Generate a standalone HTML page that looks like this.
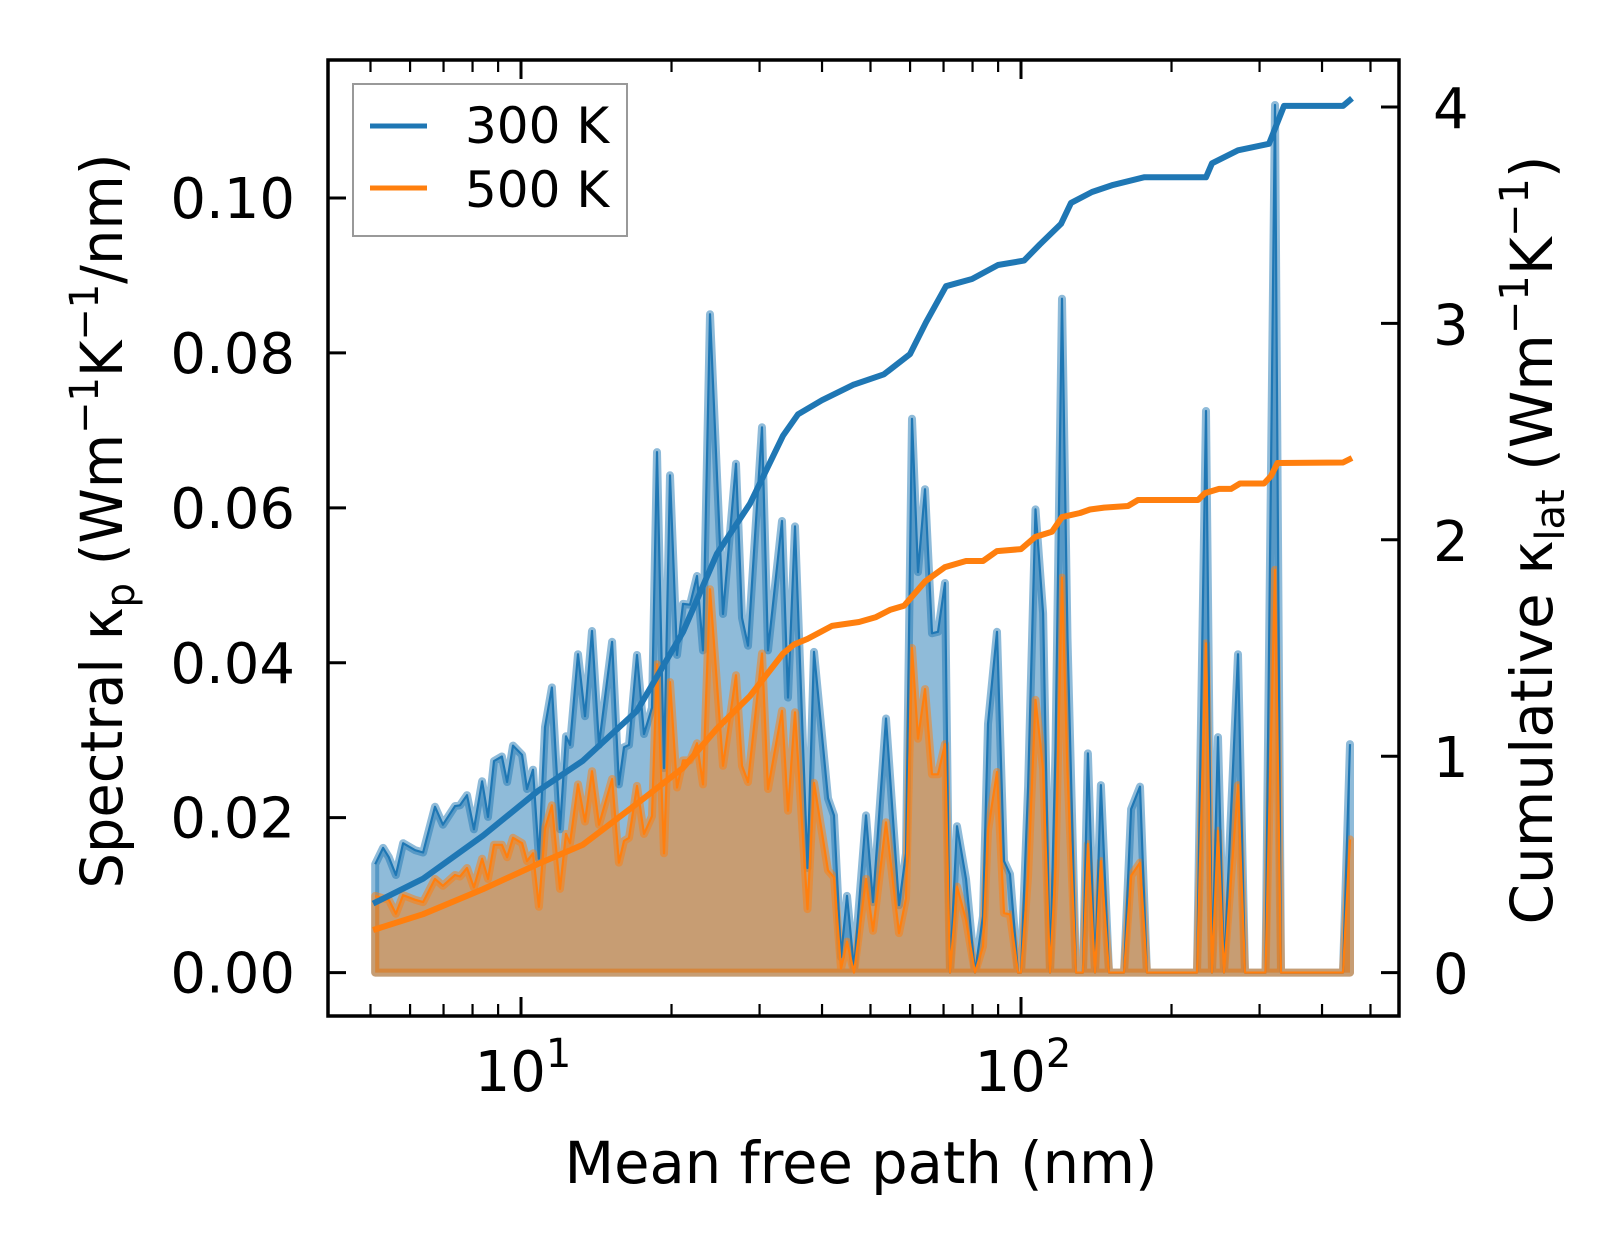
<!DOCTYPE html>
<html><head><meta charset="utf-8">
<style>
html,body{margin:0;padding:0;background:#fff;}
svg{display:block;font-family:"DejaVu Sans","Liberation Sans",sans-serif;}
</style></head>
<body>
<svg id="chart" width="1623" height="1254" viewBox="0 0 1623 1254" xmlns="http://www.w3.org/2000/svg">
<rect width="1623" height="1254" fill="#fff"/>
<g id="plot"></g>
<g id="axes"></g>
</svg>
<script>
// ---- data ----
const mfp = [5.11,5.30,5.44,5.62,5.81,6.14,6.37,6.73,6.98,7.38,7.55,7.80,8.05,8.36,8.59,8.83,9.16,9.38,9.64,10.05,10.28,10.57,10.86,11.17,11.53,11.97,12.30,12.53,13.00,13.43,13.87,14.32,15.21,15.70,16.07,16.44,17.06,17.62,18.28,18.71,19.32,19.86,20.51,21.09,21.78,22.49,23.12,23.88,25.35,26.92,27.67,28.44,30.34,31.19,33.27,34.20,35.32,37.41,38.55,41.11,42.27,43.65,44.87,46.34,48.98,50.58,53.70,57.02,58.88,60.53,62.23,64.27,66.37,68.23,70.47,72.11,74.47,77.62,80.91,83.95,85.90,89.54,92.47,95.06,98.63,100,103.3,106.9,110.7,114.3,117.2,120.8,123.9,128.8,133.0,136.1,140.6,144.5,150.0,160.7,166.0,173.0,178.6,224.9,234.4,241.0,247.7,254.7,271.6,280.5,308.3,322.1,331.1,440.6,455.0];
const k300 = [.0140,.0161,.0149,.0126,.0167,.0158,.0155,.0214,.0191,.0215,.0216,.0229,.0185,.0247,.0201,.0273,.0279,.0246,.0293,.0281,.0237,.0262,.0147,.0317,.0368,.0185,.0305,.0294,.0411,.0331,.0441,.0294,.0427,.0243,.0291,.0294,.0410,.0308,.0342,.0672,.0264,.0642,.0410,.0476,.0475,.0512,.0416,.085,.0463,.0657,.0458,.0422,.0704,.0416,.0583,.0355,.0576,.0135,.0414,.0225,.0203,.0020,.0099,.0005,.0203,.0091,.0328,.0087,.0154,.0715,.0517,.0624,.0438,.0440,.0503,0,.0189,.0121,0,.0073,.0321,.0440,.0144,.0127,0,0,.0240,.0598,.0464,0,.0287,.087,.0431,0,0,.0283,0,.0242,0,0,.0211,.0240,0,0,.0725,0,.0304,0,.0411,0,0,.112,0,0,.0295];
const k500 = [.0099,.0096,.0094,.0076,.0100,.0094,.0091,.0121,.0112,.0126,.0124,.0135,.0110,.0147,.0121,.0165,.0165,.0149,.0174,.0167,.0144,.0154,.0085,.0186,.0216,.0108,.0179,.0167,.0243,.0195,.0260,.0191,.0250,.0142,.0170,.0174,.0241,.0179,.0202,.0398,.0154,.0375,.0239,.0274,.0274,.0296,.0243,.0495,.0267,.0384,.0267,.0246,.0412,.0237,.0338,.0209,.0336,.0082,.0245,.0132,.0123,.0005,.0040,0,.0121,.0054,.0194,.0051,.0096,.0419,.0302,.0366,.0256,.0256,.0295,0,.0111,.0068,0,.0034,.0183,.0259,.0077,.0075,0,0,.0125,.0352,.0263,0,.0135,.0510,.0259,0,0,.0166,0,.0144,0,0,.0125,.0142,0,0,.0425,0,.0183,0,.0242,0,0,.052,0,0,.0172];
const cumMfp300 = [5.06,6.37,8.40,10.81,13.30,17.06,21.09,24.66,28.71,33.42,35.81,39.99,46.13,53.21,59.98,64.57,70.79,79.80,89.95,101.4,109.1,120.2,125.9,138.7,152.8,176.2,234.4,241.0,271.6,313.3,335.7,440.6,459.2];
const cum300 = [.319,.434,.633,.839,.979,1.21,1.574,1.936,2.167,2.481,2.58,2.645,2.716,2.765,2.858,3.005,3.172,3.205,3.27,3.29,3.365,3.46,3.557,3.607,3.64,3.675,3.675,3.74,3.80,3.83,4.005,4.005,4.04];
const cumMfp500 = [5.06,6.37,8.40,10.81,13.30,17.06,21.09,24.66,28.71,33.42,35.16,37.41,41.88,47.42,51.29,54.70,58.34,64.27,70.47,77.62,83.95,89.54,100,106.7,115.3,120.8,131.2,137.4,146.6,163.7,171.4,225.9,233.3,248.9,263.0,274.2,306.2,316.2,325.8,440.6,459.2];
const cum500 = [.197,.27,.386,.502,.591,.781,.946,1.128,1.278,1.474,1.516,1.542,1.602,1.620,1.643,1.676,1.695,1.807,1.874,1.902,1.902,1.948,1.957,2.013,2.037,2.105,2.124,2.140,2.149,2.156,2.184,2.184,2.216,2.235,2.235,2.26,2.26,2.295,2.355,2.357,2.378];
const leftTicks = [0,0.02,0.04,0.06,0.08,0.10];
const leftTickLabels = ["0.00","0.02","0.04","0.06","0.08","0.10"];
const rightTicks = [0,1,2,3,4];
const xMajor = [10,100];
const xMajorExp = ["1","2"];
const xMinor = [5,6,7,8,9,20,30,40,50,60,70,80,90,200,300,400,500];

// ---- axes functions ----
const L=328,R=1399,T=60,B=1016;
const X = m => 521 + 500*(Math.log10(m)-1);
const YL = v => 972.6 - v*7746;
const YR = c => 972.6 - c*216.4;
const NS="http://www.w3.org/2000/svg";
const plot=document.getElementById('plot'), axes=document.getElementById('axes');
function mk(tag, attrs, parent){const e=document.createElementNS(NS,tag);for(const k in attrs)e.setAttribute(k,attrs[k]);parent.appendChild(e);return e;}

function areaPath(xs, ys){
  let d='M'+X(xs[0]).toFixed(1)+','+YL(0).toFixed(1);
  for(let i=0;i<xs.length;i++) d+='L'+X(xs[i]).toFixed(1)+','+YL(ys[i]).toFixed(1);
  d+='L'+X(xs[xs.length-1]).toFixed(1)+','+YL(0).toFixed(1)+'Z';
  return d;
}
function linePath(xs, ys, yf){
  let d='';
  for(let i=0;i<xs.length;i++) d+=(i?'L':'M')+X(xs[i]).toFixed(1)+','+yf(ys[i]).toFixed(1);
  return d;
}
let e;
e=mk('path',{d:areaPath(mfp,k300),fill:'rgba(31,119,180,0.5)',stroke:'rgba(31,119,180,0.5)','stroke-width':8,'stroke-linejoin':'round'},plot);


e=mk('path',{d:areaPath(mfp,k500),fill:'rgba(255,127,14,0.5)',stroke:'rgba(255,127,14,0.5)','stroke-width':8,'stroke-linejoin':'round'},plot);


e=mk('path',{d:linePath(mfp,k300,YL),fill:'none',stroke:'#1f77b4','stroke-width':2.2,'stroke-linejoin':'round'},plot);


e=mk('path',{d:linePath(mfp,k500,YL),fill:'none',stroke:'#ff7f0e','stroke-width':2.2,'stroke-linejoin':'round'},plot);


e=mk('path',{d:linePath(cumMfp300,cum300,YR),fill:'none',stroke:'#1f77b4','stroke-width':6,'stroke-linejoin':'round'},plot);


e=mk('path',{d:linePath(cumMfp500,cum500,YR),fill:'none',stroke:'#ff7f0e','stroke-width':6,'stroke-linejoin':'round'},plot);



const tk={stroke:'#000','stroke-width':3};
leftTicks.forEach((v,i)=>{
  const y=YL(v);
  const t=mk('line',Object.assign({x1:L,x2:L+18,y1:y,y2:y},tk),axes);
  
  
  const l=mk('text',{x:295,y:y+20,'text-anchor':'end','font-size':56},axes);
  l.textContent=leftTickLabels[i];
  
  
});
rightTicks.forEach(c=>{
  const y=YR(c);
  const t=mk('line',Object.assign({x1:R-18,x2:R,y1:y,y2:y},tk),axes);
  
  
  const l=mk('text',{x:1433,y:y+21,'font-size':56},axes);
  l.textContent=String(c);
  
  
});
xMajor.forEach((m,i)=>{
  const x=X(m);
  [[B,B-19],[T,T+19]].forEach(p=>{
    const t=mk('line',Object.assign({x1:x,x2:x,y1:p[0],y2:p[1]},tk),axes);
    
    
  });
  const l=mk('text',{x:x+2,y:1091,'text-anchor':'middle','font-size':56},axes);
  
  
  const a=mk('tspan',{},l); a.textContent='10';
  const b=mk('tspan',{dy:-24,'font-size':40}, l); b.textContent=xMajorExp[i];
});
xMinor.forEach(m=>{
  const x=X(m);
  if(x<L||x>R) return;
  [[B,B-12],[T,T+12]].forEach(p=>{
    const t=mk('line',{x1:x,x2:x,y1:p[0],y2:p[1],stroke:'#000','stroke-width':2.2},axes);
    
    
  });
});
(function(){
const f=document.createElementNS(NS,'rect');
f.setAttribute('x',328);f.setAttribute('y',60);f.setAttribute('width',1071);f.setAttribute('height',956);
f.setAttribute('fill','none');f.setAttribute('stroke','#000');f.setAttribute('stroke-width',3.5);


axes.appendChild(f);
const svg=document.getElementById('chart');
const g=document.createElementNS(NS,'g');
g.innerHTML =
 '<rect x="353" y="84" width="274" height="152" fill="#fff" stroke="#999" stroke-width="2"/>'+
 '<line x1="370" x2="427" y1="126" y2="126" stroke="#1f77b4" stroke-width="5"/>'+
 '<text x="465" y="143" font-size="50">300 K</text>'+
 '<line x1="370" x2="427" y1="188" y2="188" stroke="#ff7f0e" stroke-width="5"/>'+
 '<text x="465" y="207" font-size="50">500 K</text>'+
 '<text x="861" y="1183" text-anchor="middle" font-size="58" textLength="593" lengthAdjust="spacingAndGlyphs">Mean free path (nm)</text>'+
 '<text transform="translate(122,521) rotate(-90)" text-anchor="middle" font-size="58" textLength="735" lengthAdjust="spacingAndGlyphs">Spectral κ<tspan font-size="40" dy="12">p</tspan><tspan dy="-12"> (Wm</tspan><tspan font-size="40" dy="-24">−1</tspan><tspan dy="24">K</tspan><tspan font-size="40" dy="-24">−1</tspan><tspan dy="24">/nm)</tspan></text>'+
 '<text transform="translate(1552,540) rotate(-90)" text-anchor="middle" font-size="58" textLength="769" lengthAdjust="spacingAndGlyphs">Cumulative κ<tspan font-size="40" dy="12">lat</tspan><tspan dy="-12"> (Wm</tspan><tspan font-size="40" dy="-24">−1</tspan><tspan dy="24">K</tspan><tspan font-size="40" dy="-24">−1</tspan><tspan dy="24">)</tspan></text>';


svg.appendChild(g);
})();
</script>
</body></html>
